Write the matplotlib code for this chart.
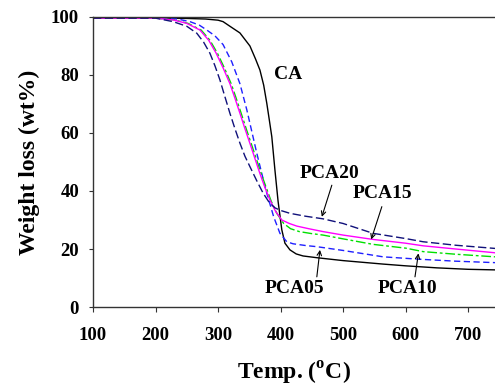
import numpy as np
import matplotlib
matplotlib.use('Agg')
import matplotlib.pyplot as plt

# Curvas de TGA (temperatura em C, perda de massa em wt%)
t_ca = [100, 200, 250, 280, 300, 308, 319, 335, 351, 360, 367, 373, 378, 382, 386,
        391, 396, 402, 407, 415, 425, 436, 458, 500, 564, 600, 650, 700, 743]
w_ca = [99.6, 99.6, 99.5, 99.3, 98.9, 98.4, 96.8, 94.5, 90, 85.5, 81.7, 76.5, 70.2, 64.5, 58.7,
        47.2, 36.5, 26.6, 22, 19.7, 18.3, 17.6, 17.0, 16.0, 14.8, 14.2, 13.5, 13.0, 12.8]

t_pca05 = [100, 200, 235, 255, 270, 282, 295, 308, 322, 335, 346, 354, 362, 370, 378,
           389, 399, 410, 420, 440, 458, 500, 564, 620, 680, 743]
w_pca05 = [99.6, 99.6, 99.3, 98.4, 97.2, 95.5, 93.5, 90.5, 84.5, 77, 68, 60.5, 53, 46, 39.2,
           31.1, 25.4, 22.5, 21.8, 21.2, 20.8, 19.5, 17.3, 16.5, 15.8, 15.3]

t_pca10 = [100, 200, 230, 252, 273, 287, 299, 310, 321, 329, 337, 345, 353, 361, 369,
           377, 385, 394, 405, 416, 430, 450, 468, 500, 548, 600, 628, 680, 743]
w_pca10 = [99.6, 99.6, 99, 97.8, 95.5, 92, 87.5, 82.5, 77, 72, 66.8, 61.5, 56.4, 51.2, 46,
           41.2, 36.5, 32.3, 28.8, 27, 26, 25.3, 24.8, 23.5, 21.6, 20.3, 19.1, 18.2, 17.3]

t_pca15 = [100, 200, 228, 250, 271, 285, 297, 308, 319, 327, 335, 343, 351, 359, 367,
           375, 383, 392, 402, 414, 426, 445, 468, 500, 548, 600, 628, 680, 743]
w_pca15 = [99.6, 99.6, 99, 97.8, 95.5, 92, 87.5, 82.5, 77, 72, 66.8, 61.5, 56.4, 51.2, 46,
           41.2, 36.9, 33, 30, 28.8, 27.9, 27, 26, 24.8, 23.3, 22, 21.1, 20, 18.7]

t_pca20 = [100, 200, 228, 250, 266, 277, 287, 295, 303, 311, 319, 327, 335, 343, 351,
           362, 372, 382, 391, 400, 415, 440, 468, 500, 548, 600, 628, 680, 743]
w_pca20 = [99.6, 99.6, 98.4, 96.8, 94.4, 91.3, 87.5, 83.2, 78.3, 72.5, 66.8, 61.5, 56.5, 52, 48.4,
           43.5, 39.3, 36, 34.2, 33.3, 32.3, 31.3, 30.4, 28.8, 25.4, 23.6, 22.5, 21.3, 20.2]

# Rotulos: texto, posicao do texto, origem e ponta da seta
rotulos = ['CA', 'PCA20', 'PCA15', 'PCA05', 'PCA10']
rot_x = [412, 478, 563, 422, 603]
rot_y = [80, 46, 39, 6.5, 6.5]
seta_ini = [None, (482, 42), (562, 34.6), (458, 10.4), (615, 10.4)]
seta_fim = [None, (466, 31.1), (545, 23.3), (463, 19.7), (620.5, 18.5)]

xticks = [100, 200, 300, 400, 500, 600, 700]
yticks = [0, 20, 40, 60, 80, 100]

plt.rcParams['font.family'] = ['Liberation Serif', 'DejaVu Serif']
plt.rcParams['font.weight'] = 'bold'
plt.rcParams['mathtext.fontset'] = 'custom'
plt.rcParams['mathtext.rm'] = 'Liberation Serif:bold'
plt.rcParams['mathtext.bf'] = 'Liberation Serif:bold'

fig = plt.figure(figsize=(4.95, 3.87), dpi=100)
ax = fig.add_axes([0.1879, 0.2067, 0.8121, 0.7494])

ax.plot(t_ca, w_ca, color='black', lw=1.0)
ax.plot(t_pca05, w_pca05, color='#1f1fff', lw=1.0, ls=(0, (4.5, 2.5)))
ax.plot(t_pca10, w_pca10, color='#00e000', lw=1.0, ls=(0, (7, 2, 2, 2)))
ax.plot(t_pca15, w_pca15, color='#ff00ff', lw=1.0)
ax.plot(t_pca20, w_pca20, color='#10107a', lw=1.0, ls=(0, (6, 2.5)))

for txt, x, y, a, b in zip(rotulos, rot_x, rot_y, seta_ini, seta_fim):
    ax.text(x, y, txt, ha='center', va='center', fontsize=14, fontweight='bold')
    if a is not None:
        ax.annotate('', xy=b, xytext=a,
                    arrowprops=dict(arrowstyle='->', lw=0.8, color='black',
                                    shrinkA=0, shrinkB=0, mutation_scale=8))

ax.set_xlim(100, 743)
ax.set_ylim(0, 100)
ax.set_xticks(xticks)
ax.set_yticks(yticks)
ax.spines['right'].set_visible(False)
for s in ['left', 'bottom', 'top']:
    ax.spines[s].set_color('#333333')
    ax.spines[s].set_linewidth(1.0)
ax.tick_params(axis='x', direction='out', length=3.5, width=0.8, pad=11, labelsize=13.5, colors='#333333', labelcolor='black')
ax.tick_params(axis='y', direction='out', length=3, width=0.8, pad=7, labelsize=13.5, colors='#333333', labelcolor='black')

ax.set_xlabel(r'Temp. ($^{\rm o}$C)', fontsize=17, fontweight='bold', labelpad=11)
ax.set_ylabel('Weight loss (wt%)', fontsize=17, fontweight='bold', labelpad=8)

fig.savefig('out.png', dpi=100)
